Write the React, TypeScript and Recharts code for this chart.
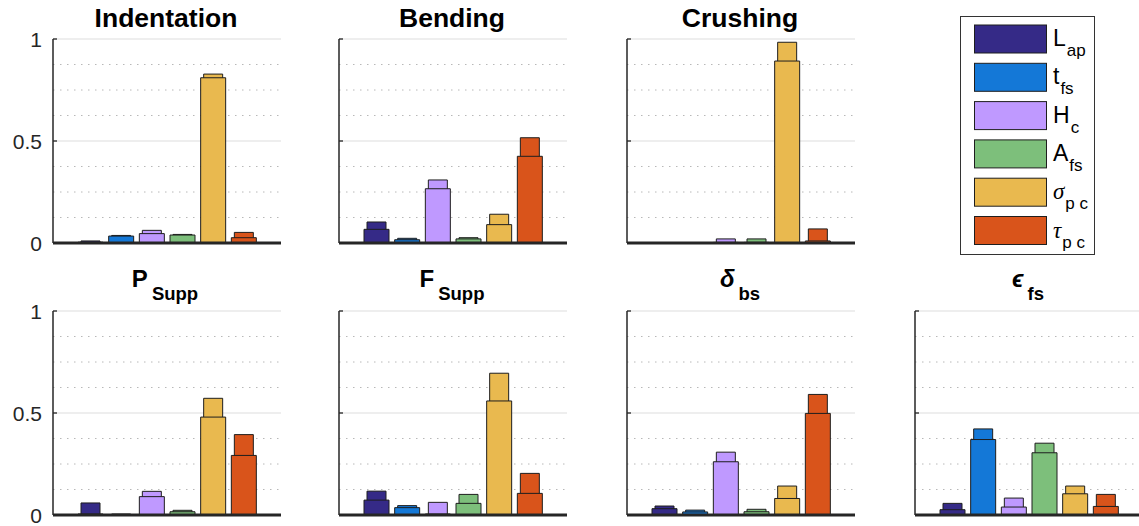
import React from 'react';
import { BarChart, Bar, XAxis, YAxis, CartesianGrid, Cell, ReferenceLine } from 'recharts';

// ---- data ----
const params = ['Lap', 'tfs', 'Hc', 'Afs', 'sigma_pc', 'tau_pc'];
const colors = ['#352a87', '#1478d7', '#bf99ff', '#7dbf7b', '#e9b94f', '#d9541b'];

const yTicks = [0, 0.5, 1];
const majorGrid = [0.5, 1];
const minorGrid = [0.125, 0.25, 0.375, 0.625, 0.75, 0.875];

const indentationFirst = [0.004, 0.034, 0.046, 0.039, 0.81, 0.026];
const indentationTotal = [0.01, 0.037, 0.062, 0.042, 0.828, 0.052];

const bendingFirst = [0.067, 0.016, 0.266, 0.02, 0.09, 0.425];
const bendingTotal = [0.103, 0.023, 0.309, 0.026, 0.141, 0.516];

const crushingFirst = [0.001, 0.001, 0.003, 0.003, 0.892, 0.01];
const crushingTotal = [0.002, 0.001, 0.02, 0.02, 0.984, 0.069];

const pSuppFirst = [0.005, 0.002, 0.09, 0.016, 0.48, 0.292];
const pSuppTotal = [0.059, 0.005, 0.116, 0.023, 0.572, 0.394];

const fSuppFirst = [0.073, 0.036, 0.005, 0.057, 0.559, 0.106];
const fSuppTotal = [0.117, 0.046, 0.062, 0.101, 0.695, 0.204];

const deltaFirst = [0.031, 0.015, 0.261, 0.016, 0.081, 0.498];
const deltaTotal = [0.044, 0.024, 0.308, 0.028, 0.142, 0.591];

const epsFirst = [0.026, 0.37, 0.039, 0.305, 0.104, 0.042];
const epsTotal = [0.057, 0.422, 0.083, 0.352, 0.142, 0.101];

const FONT = '"Liberation Sans", Arial, Helvetica, sans-serif';
const AX = '#262626';

const PLOT_W = 228;
const PLOT_H = 204;
const OFF_L = 50;
const OFF_T = 10;

function gridGen(values: number[]) {
  return (p: any) => {
    const sc = p && p.yAxis && p.yAxis.scale;
    if (typeof sc === 'function') return values.map((v) => sc(v));
    if (sc && typeof sc.map === 'function') return values.map((v) => sc.map(v));
    const off = p.offset;
    return values.map((v) => off.top + off.height * (1 - v));
  };
}

type PanelProps = { left: number; top: number; first: number[]; total: number[]; showLabels: boolean };

function Panel({ left, top, first, total, showLabels }: PanelProps) {
  const data = params.map((p, i) => ({ name: p, first: first[i], total: total[i] }));
  const tick = (props: any) => {
    const { y, payload } = props;
    return (
      <g>
        <line x1={OFF_L} x2={OFF_L + 4} y1={y} y2={y} stroke={AX} strokeWidth={1.3} />
        {showLabels ? (
          <text x={OFF_L - 11} y={y} textAnchor="end" dominantBaseline="central" fontSize={21} fill={AX} fontFamily={FONT}>
            {String(payload.value)}
          </text>
        ) : null}
      </g>
    );
  };
  return (
    <div style={{ position: 'absolute', left: left - OFF_L, top: top - OFF_T }}>
      <BarChart
        width={OFF_L + PLOT_W + 5}
        height={OFF_T + PLOT_H + 10}
        data={data}
        margin={{ top: OFF_T, right: 5, bottom: 8, left: 2 }}
        barCategoryGap={0}
      >
        <CartesianGrid
          xAxisId="t"
          vertical={false}
          horizontalCoordinatesGenerator={gridGen(minorGrid)}
          stroke="#b8b8b8"
          strokeDasharray="1.5 5.5"
        />
        <CartesianGrid
          xAxisId="t"
          vertical={false}
          horizontalCoordinatesGenerator={gridGen(majorGrid)}
          stroke="#dddddd"
        />
        <XAxis
          xAxisId="t"
          dataKey="name"
          type="category"
          padding={{ left: 22, right: 22 }}
          tick={false}
          tickLine={false}
          axisLine={{ stroke: AX, strokeWidth: 1.5 }}
          height={2}
        />
        <XAxis xAxisId="f" dataKey="name" type="category" padding={{ left: 22, right: 22 }} hide />
        <YAxis
          domain={[0, 1]}
          ticks={yTicks}
          interval={0}
          width={48}
          axisLine={{ stroke: AX, strokeWidth: 1.5 }}
          tickLine={false}
          tick={tick}
          allowDataOverflow
        />
        <Bar xAxisId="t" dataKey="total" barSize={19} stroke="#1e1e1e" strokeWidth={1} isAnimationActive={false}>
          {data.map((d, i) => (
            <Cell key={d.name} fill={colors[i]} />
          ))}
        </Bar>
        <Bar xAxisId="f" dataKey="first" barSize={25} stroke="#1e1e1e" strokeWidth={1} isAnimationActive={false}>
          {data.map((d, i) => (
            <Cell key={d.name} fill={colors[i]} />
          ))}
        </Bar>
        <ReferenceLine xAxisId="t" y={0} stroke={AX} strokeWidth={3} ifOverflow="visible" />
      </BarChart>
    </div>
  );
}

const TOP1 = 39;
const TOP2 = 311;
const COLS = [53, 339, 627, 915];

type Entry = { main: string; sub: string; greek?: boolean };
const legendEntries: Entry[] = [
  { main: 'L', sub: 'ap' },
  { main: 't', sub: 'fs' },
  { main: 'H', sub: 'c' },
  { main: 'A', sub: 'fs' },
  { main: 'σ', sub: 'p c', greek: true },
  { main: 'τ', sub: 'p c', greek: true },
];

function Title({ cx, y, main, sub, italic, size }: { cx: number; y: number; main: string; sub?: string; italic?: boolean; size: number }) {
  return (
    <text x={cx} y={y} textAnchor="middle" fontFamily={FONT} fontWeight="bold" fontSize={size} fill="#000">
      <tspan fontStyle={italic ? 'italic' : 'normal'}>{main}</tspan>
      {sub ? (
        <tspan dx={4} dy={13} fontSize={18.5}>
          {sub}
        </tspan>
      ) : null}
    </text>
  );
}

export default function App() {
  return (
    <div style={{ position: 'absolute', left: 0, top: 0, width: 1139, height: 526, overflow: 'hidden', background: '#fff' }}>
      <Panel left={COLS[0]} top={TOP1} first={indentationFirst} total={indentationTotal} showLabels />
      <Panel left={COLS[1]} top={TOP1} first={bendingFirst} total={bendingTotal} showLabels={false} />
      <Panel left={COLS[2]} top={TOP1} first={crushingFirst} total={crushingTotal} showLabels={false} />
      <Panel left={COLS[0]} top={TOP2} first={pSuppFirst} total={pSuppTotal} showLabels />
      <Panel left={COLS[1]} top={TOP2} first={fSuppFirst} total={fSuppTotal} showLabels={false} />
      <Panel left={COLS[2]} top={TOP2} first={deltaFirst} total={deltaTotal} showLabels={false} />
      <Panel left={COLS[3]} top={TOP2} first={epsFirst} total={epsTotal} showLabels={false} />
      <svg width={1139} height={526} style={{ position: 'absolute', left: 0, top: 0, pointerEvents: 'none' }}>
        <Title cx={COLS[0] + 113} y={27} main="Indentation" size={26.5} />
        <Title cx={COLS[1] + 113} y={27} main="Bending" size={26.5} />
        <Title cx={COLS[2] + 113} y={27} main="Crushing" size={26.5} />
        <Title cx={COLS[0] + 112} y={287} main="P" sub="Supp" size={24} />
        <Title cx={COLS[1] + 113} y={287} main="F" sub="Supp" size={24} />
        <Title cx={COLS[2] + 113} y={287} main="δ" sub="bs" italic size={24} />
        <Title cx={COLS[3] + 113} y={287} main="ϵ" sub="fs" italic size={24} />
        <rect x={960.5} y={16.5} width={134} height={238} fill="#fff" stroke="#333" strokeWidth={1} />
        {legendEntries.map((e, i) => {
          const top = 25 + i * 38.3;
          const cy = top + 14;
          return (
            <g key={e.main}>
              <rect x={974.5} y={top} width={72} height={28} fill={colors[i]} stroke="#1e1e1e" strokeWidth={1} />
              <text x={1053} y={cy + 7} fontFamily={FONT} fontSize={23} fill="#000">
                <tspan
                  fontFamily={e.greek ? '"Liberation Serif", "Times New Roman", serif' : FONT}
                  fontStyle={e.greek ? 'italic' : 'normal'}
                >
                  {e.main}
                </tspan>
                <tspan dx={1} dy={10} fontSize={17}>
                  {e.sub}
                </tspan>
              </text>
            </g>
          );
        })}
      </svg>
    </div>
  );
}
